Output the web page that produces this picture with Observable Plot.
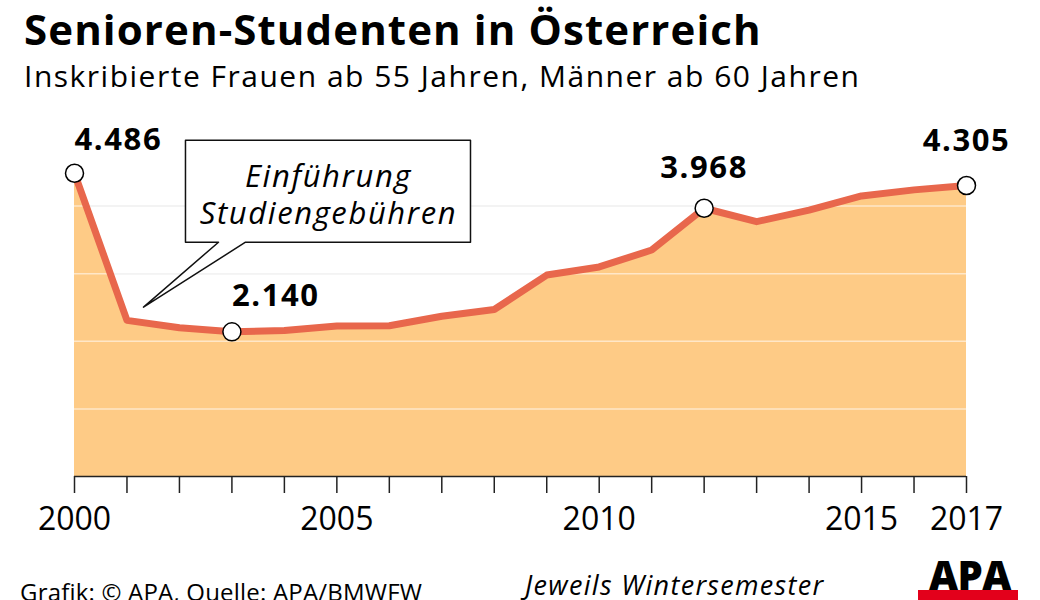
<!DOCTYPE html>
<html>
<head>
<meta charset="utf-8">
<script src="https://cdn.jsdelivr.net/npm/d3@7"></script>
<script src="https://cdn.jsdelivr.net/npm/@observablehq/plot@0.6"></script>
<style>
  html, body { margin: 0; padding: 0; background: #fff; }
  #wrap { position: relative; width: 1040px; height: 600px; overflow: hidden; font-family: "Open Sans", sans-serif; color: #000; }
  .abs { position: absolute; white-space: nowrap; line-height: 1; }
  #title { left: 24px; top: 8px; font-size: 42px; font-weight: 700; letter-spacing: 1.1px; }
  #subtitle { left: 24px; top: 61px; font-size: 30px; font-weight: 400; letter-spacing: 1.5px; }
  #chart { position: absolute; left: 0; top: 105px; }
  #source { left: 20px; top: 580px; font-size: 24px; letter-spacing: 0.2px; }
  #note { left: 525px; top: 571px; font-size: 27px; font-style: italic; letter-spacing: 1.3px; }
  #logo { left: 929px; top: 555px; font-size: 40px; font-weight: 800; letter-spacing: -0.5px; }
  #logobar { position: absolute; left: 918px; top: 590px; width: 100px; height: 12px; background: #e3001b; }
  .vlabel text { letter-spacing: 1.6px; }
  .calltext text { letter-spacing: 1.6px; }
</style>
</head>
<body>
<div id="wrap">
  <div class="abs" id="title">Senioren-Studenten in Österreich</div>
  <div class="abs" id="subtitle">Inskribierte Frauen ab 55 Jahren, Männer ab 60 Jahren</div>
  <div id="chart"></div>
  <div class="abs" id="source">Grafik: © APA, Quelle: APA/BMWFW</div>
  <div class="abs" id="note">Jeweils Wintersemester</div>
  <div class="abs" id="logo">APA</div>
  <div id="logobar"></div>
</div>
<script>
// ---- data ----
const years  = [2000, 2001, 2002, 2003, 2004, 2005, 2006, 2007, 2008, 2009, 2010, 2011, 2012, 2013, 2014, 2015, 2016, 2017];
const values = [4486, 2310, 2200, 2140, 2160, 2225, 2230, 2370, 2470, 2980, 3100, 3350, 3968, 3770, 3940, 4150, 4240, 4305];
const tickLabelYears = [2000, 2005, 2010, 2015, 2017];
const gridValues = [1000, 2000, 3000, 4000];
const highlightYears = [2000, 2003, 2012, 2017];
const calloutText = "Einführung\nStudiengebühren";
// callout annotation outline in data units (year, students)
const calloutX = [2002.115, 2007.547, 2007.547, 2003.259, 2001.315, 2002.744, 2002.115];
const calloutY = [4975, 4975, 3466, 3466, 2505, 3466, 3466];
const calloutTextAt = [2004.84, 4190];

const data = years.map((year, i) => ({year, value: values[i]}));
const callout = calloutX.map((x, i) => ({x, y: calloutY[i]}));
const de = d3.formatLocale({decimal: ",", thousands: ".", grouping: [3], currency: ["", " €"]});
const fmt = de.format(",d");

// label offsets (style)
const labelStyle = {
  2000: {dx: 0, dy: -33, anchor: "start"},
  2003: {dx: 0, dy: -36, anchor: "start"},
  2012: {dx: 0, dy: -40, anchor: "middle"},
  2017: {dx: 0, dy: -44, anchor: "middle"}
};

const labelMarks = highlightYears.map(yr => Plot.text(data.filter(d => d.year === yr), {
  x: "year", y: "value", text: d => fmt(d.value),
  dx: labelStyle[yr].dx, dy: labelStyle[yr].dy, textAnchor: labelStyle[yr].anchor,
  fontSize: 31, fontWeight: 700, fill: "#000", className: "vlabel"
}));

const chart = Plot.plot({
  width: 1040,
  height: 445,
  marginLeft: 74,
  marginRight: 74,
  marginTop: 33,
  marginBottom: 74,
  style: {fontFamily: "Open Sans, sans-serif", background: "transparent", overflow: "visible"},
  x: {domain: [2000, 2017]},
  y: {domain: [0, 5000], axis: null},
  marks: [
    Plot.ruleY(gridValues, {stroke: "#e4e4e4", strokeWidth: 1.5}),
    Plot.areaY(data, {x: "year", y: "value", fill: "#fecb86"}),
    Plot.ruleY(gridValues, {stroke: "#ffffff", strokeOpacity: 0.55, strokeWidth: 1.5}),
    Plot.ruleY([0], {stroke: "#222", strokeWidth: 1.5}),
    Plot.lineY(data, {x: "year", y: "value", stroke: "#e8674c", strokeWidth: 7, strokeLinejoin: "round"}),
    Plot.line(callout, {x: "x", y: "y", curve: "linear-closed", fill: "white", stroke: "#111", strokeWidth: 1.5}),
    Plot.text([calloutText], {x: () => calloutTextAt[0], y: () => calloutTextAt[1], text: d => d,
      fontSize: 31, fontStyle: "italic", lineHeight: 1.2, textAnchor: "middle", fill: "#000", className: "calltext"}),
    Plot.dot(data.filter(d => highlightYears.includes(d.year)), {x: "year", y: "value", r: 9, fill: "white", stroke: "#000", strokeWidth: 1.5}),
    ...labelMarks,
    Plot.axisX({ticks: years, tickSize: 17, tickPadding: 14, stroke: "#222", strokeWidth: 1.5,
      tickFormat: d => tickLabelYears.includes(d) ? String(d) : "", fontSize: 32, fill: "#000", label: null})
  ]
});
document.getElementById("chart").appendChild(chart);
</script>
</body>
</html>
